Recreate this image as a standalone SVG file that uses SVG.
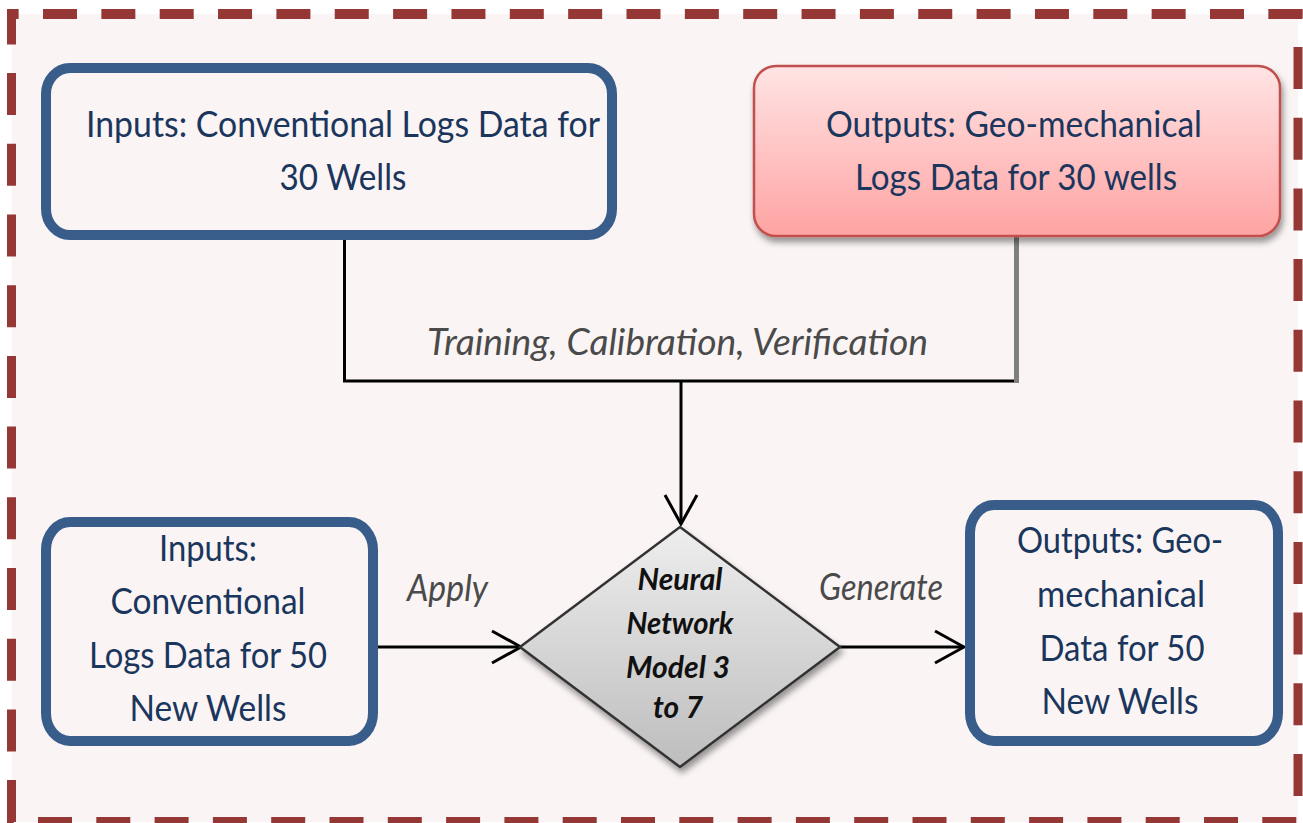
<svg xmlns="http://www.w3.org/2000/svg" width="1303" height="823" viewBox="0 0 1303 823">
  <defs>
    <style>
      .frame { fill: none; stroke: #953735; }
      .box { fill: #FAF4F4; stroke: #385D8A; stroke-width: 10; }
      .ntext { font-family: Lato, "Liberation Sans", sans-serif; font-size: 36px; fill: #1B365D; text-anchor: middle; }
      .dtext { font-family: Lato, "Liberation Sans", sans-serif; font-size: 30px; font-weight: bold; font-style: italic; fill: #111111; text-anchor: middle; }
      .label { font-family: Lato, "Liberation Sans", sans-serif; font-size: 36px; font-style: italic; fill: #4A4A4A; }
      .wire { fill: none; stroke: #000000; stroke-width: 3; }
    </style>
    <linearGradient id="pinkFill" x1="0" y1="0" x2="0" y2="1">
      <stop offset="0" stop-color="#FFE4E4"/>
      <stop offset="1" stop-color="#FFA3A3"/>
    </linearGradient>
    <linearGradient id="greyFill" x1="0" y1="0" x2="0" y2="1">
      <stop offset="0" stop-color="#EEEEEE"/>
      <stop offset="1" stop-color="#BDBDBD"/>
    </linearGradient>
    <filter id="shadow" x="-10%" y="-10%" width="125%" height="130%">
      <feDropShadow dx="2" dy="5" stdDeviation="3" flood-color="#000000" flood-opacity="0.4"/>
    </filter>
    <clipPath id="frameClip">
      <rect x="7" y="9" width="1296" height="814"/>
    </clipPath>
    <marker id="chevron" viewBox="-32 -18 34 36" refX="0" refY="0" markerWidth="34" markerHeight="36" markerUnits="userSpaceOnUse" orient="auto">
      <path d="M-29,-16 L0,0 L-29,16" fill="none" stroke="#000000" stroke-width="3"/>
    </marker>
  </defs>

  <!-- background panel with dashed frame -->
  <rect x="0" y="0" width="1303" height="823" fill="#FFFFFF"/>
  <rect x="11.5" y="14" width="1286.5" height="808" fill="#FAF4F4"/>
  <g id="frame" clip-path="url(#frameClip)">
    <line class="frame" x1="-15.35" y1="14" x2="1303" y2="14" stroke-width="10" stroke-dasharray="34 24.35"/>
    <line class="frame" x1="-20.3" y1="822" x2="1303" y2="822" stroke-width="10" stroke-dasharray="34 24.3"/>
    <line class="frame" x1="11.5" y1="2.4" x2="11.5" y2="823" stroke-width="9" stroke-dasharray="42 28.7"/>
    <line class="frame" x1="1298" y1="-23.7" x2="1298" y2="823" stroke-width="9" stroke-dasharray="42 28.7"/>
  </g>

  <!-- connectors -->
  <g id="connectors">
    <path class="wire" d="M344.5,240 V381 H1016"/>
    <path d="M1016.5,237 V383" fill="none" stroke="#7F7F7F" stroke-width="5"/>
    <path class="wire" d="M681,381 V524" marker-end="url(#chevron)"/>
    <path class="wire" d="M373,647 H521" marker-end="url(#chevron)"/>
    <path class="wire" d="M840,647 H964" marker-end="url(#chevron)"/>
    <text class="label" x="427" y="355" textLength="501" lengthAdjust="spacingAndGlyphs">Training, Calibration, Verification</text>
    <text class="label" x="407" y="601" textLength="81" lengthAdjust="spacingAndGlyphs">Apply</text>
    <text class="label" x="819" y="600" textLength="124" lengthAdjust="spacingAndGlyphs">Generate</text>
  </g>

  <!-- training inputs -->
  <g id="train-inputs">
    <rect class="box" x="46" y="68" width="566" height="167" rx="24" ry="26"/>
    <text class="ntext" x="343" y="137" textLength="514" lengthAdjust="spacingAndGlyphs">Inputs: Conventional Logs Data for</text>
    <text class="ntext" x="343" y="190" textLength="127" lengthAdjust="spacingAndGlyphs">30 Wells</text>
  </g>

  <!-- training outputs -->
  <g id="train-outputs">
    <rect x="754" y="66" width="526" height="170" rx="22" ry="22" fill="url(#pinkFill)" stroke="#C0504D" stroke-width="2.5" filter="url(#shadow)"/>
    <text class="ntext" x="1014" y="137" textLength="376" lengthAdjust="spacingAndGlyphs">Outputs: Geo-mechanical</text>
    <text class="ntext" x="1016" y="190" textLength="322" lengthAdjust="spacingAndGlyphs">Logs Data for 30 wells</text>
  </g>

  <!-- neural network model -->
  <g id="model">
    <polygon points="680,527 840,647 680,767 520,647" fill="url(#greyFill)" stroke="#333333" stroke-width="2.5" filter="url(#shadow)"/>
    <text class="dtext" x="680" y="590" textLength="85" lengthAdjust="spacingAndGlyphs">Neural</text>
    <text class="dtext" x="680" y="634" textLength="107" lengthAdjust="spacingAndGlyphs">Network</text>
    <text class="dtext" x="678" y="678" textLength="104" lengthAdjust="spacingAndGlyphs">Model 3</text>
    <text class="dtext" x="678" y="718" textLength="50" lengthAdjust="spacingAndGlyphs">to 7</text>
  </g>

  <!-- new wells inputs -->
  <g id="new-inputs">
    <rect class="box" x="46" y="522" width="327" height="219" rx="24" ry="28"/>
    <text class="ntext" x="208" y="561" textLength="98" lengthAdjust="spacingAndGlyphs">Inputs:</text>
    <text class="ntext" x="208" y="614" textLength="195" lengthAdjust="spacingAndGlyphs">Conventional</text>
    <text class="ntext" x="208" y="668" textLength="238" lengthAdjust="spacingAndGlyphs">Logs Data for 50</text>
    <text class="ntext" x="208" y="721" textLength="157" lengthAdjust="spacingAndGlyphs">New Wells</text>
  </g>

  <!-- new wells outputs -->
  <g id="new-outputs">
    <rect class="box" x="970" y="505" width="308" height="236" rx="24" ry="28"/>
    <text class="ntext" x="1120" y="553" textLength="206" lengthAdjust="spacingAndGlyphs">Outputs: Geo-</text>
    <text class="ntext" x="1121" y="607" textLength="168" lengthAdjust="spacingAndGlyphs">mechanical</text>
    <text class="ntext" x="1122" y="661" textLength="165" lengthAdjust="spacingAndGlyphs">Data for 50</text>
    <text class="ntext" x="1120" y="714" textLength="157" lengthAdjust="spacingAndGlyphs">New Wells</text>
  </g>
</svg>
